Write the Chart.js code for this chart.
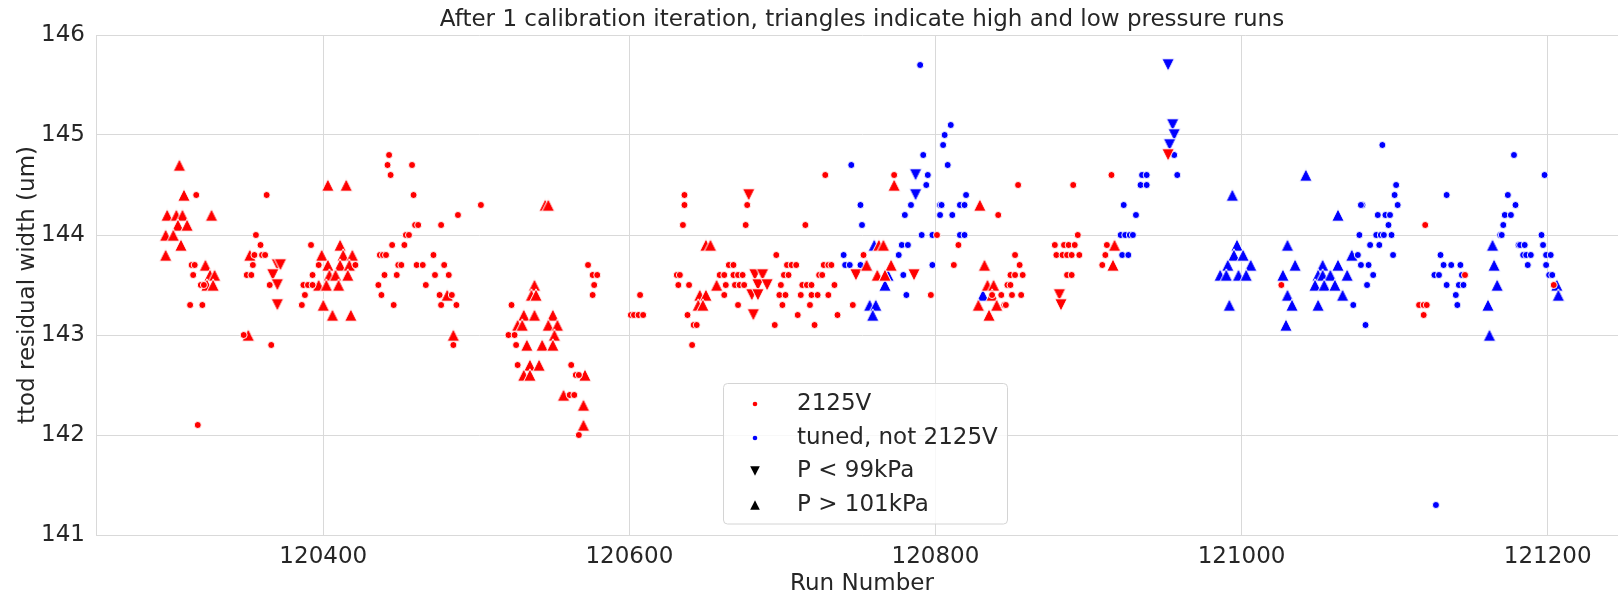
<!DOCTYPE html>
<html><head><meta charset="utf-8">
<script src="https://cdn.jsdelivr.net/npm/chart.js@4.4.0/dist/chart.umd.min.js"></script>
<style>html,body{margin:0;padding:0;overflow:hidden;background:#fff;width:1618px;height:595px}#wrap{width:1634px;height:595px}</style>
</head><body><div id="wrap"><canvas id="c" width="1634" height="595"></canvas></div>
<script>
const chartTitle = 'After 1 calibration iteration, triangles indicate high and low pressure runs';
const xLabel = 'Run Number';
const yLabel = 'ttod residual width (um)';
const xTicks = [120400, 120600, 120800, 121000, 121200];
const yTicks = [141, 142, 143, 144, 145, 146];
const legendLabels = ['2125V', 'tuned, not 2125V', 'P < 99kPa', 'P > 101kPa'];

const redCircleRuns = [120317,120314,120316,120315,120320,120322,120313,120321,120318,120363,120356,120359,120355,120360,120362,120354,120350,120353,120365,120348,120366,120392,120397,120421,120393,120387,120390,120393,120388,120386,120443,120442,120458,120444,120459,120503,120488,120460,120462,120477,120454,120456,120445,120453,120437,120439,120441,120472,120449,120451,120461,120465,120479,120440,120448,120473,120482,120436,120467,120438,120476,120484,120446,120477,120487,120485,120523,120521,120525,120526,120527,120562,120565,120567,120561,120564,120567,120573,120576,120579,120577,120576,120607,120601,120603,120606,120609,120636,120636,120635,120631,120633,120632,120639,120638,120642,120644,120641,120665,120668,120659,120662,120668,120671,120674,120663,120669,120672,120675,120662,120671,120677,120676,120696,120703,120706,120709,120701,120704,120699,120698,120702,120700,120695,120710,120715,120728,120724,120726,120727,120730,120732,120713,120716,120719,120734,120712,120719,120723,120730,120718,120721,120736,120753,120746,120773,120801,120815,120812,120797,120841,120854,120852,120855,120849,120852,120857,120847,120849,120837,120843,120850,120856,120845,120846,120890,120893,120878,120884,120887,120891,120879,120883,120886,120889,120894,120886,120889,120915,120912,120911,120909,121026,121120,121116,121119,121121,121119,121146,121204];
const redCircleVals = [144.4,143.7,143.7,143.6,143.5,143.5,143.3,143.3,142.1,144.4,144.0,143.9,143.8,143.8,143.8,143.7,143.6,143.6,143.5,143.0,142.9,143.9,143.7,143.7,143.6,143.5,143.5,143.5,143.4,143.3,144.8,144.7,144.7,144.6,144.4,144.3,144.2,144.1,144.1,144.1,144.0,144.0,143.9,143.9,143.8,143.8,143.8,143.8,143.7,143.7,143.7,143.7,143.7,143.6,143.6,143.6,143.6,143.5,143.5,143.4,143.4,143.4,143.3,143.3,143.3,142.9,143.3,143.0,143.0,142.9,142.7,142.7,142.6,142.6,142.4,142.4,142.0,143.7,143.6,143.6,143.5,143.4,143.4,143.2,143.2,143.2,143.2,144.4,144.3,144.1,143.6,143.6,143.5,143.5,143.2,143.1,143.1,142.9,143.7,143.7,143.6,143.6,143.6,143.6,143.6,143.5,143.5,143.5,143.5,143.4,143.3,144.3,144.1,143.8,143.7,143.7,143.7,143.6,143.6,143.5,143.4,143.4,143.3,143.1,143.2,144.1,144.6,143.6,143.6,143.7,143.7,143.7,143.5,143.5,143.5,143.5,143.4,143.4,143.4,143.4,143.3,143.1,143.2,143.8,143.3,144.6,144.0,143.9,143.7,143.4,144.2,144.5,143.8,143.7,143.6,143.6,143.6,143.5,143.5,143.4,143.4,143.4,143.4,143.3,143.3,144.5,144.0,143.9,143.9,143.9,143.9,143.8,143.8,143.8,143.8,143.8,143.6,143.6,144.6,143.9,143.8,143.7,143.5,144.1,143.3,143.3,143.3,143.2,143.6,143.5];

const redUpRuns = [120306,120309,120298,120304,120308,120327,120305,120311,120297,120302,120307,120297,120323,120326,120329,120324,120328,120352,120351,120403,120415,120411,120399,120413,120419,120403,120411,120417,120404,120408,120416,120397,120402,120410,120400,120406,120418,120481,120485,120545,120547,120538,120536,120539,120531,120538,120550,120527,120530,120547,120553,120551,120533,120543,120550,120535,120541,120531,120535,120571,120557,120570,120570,120650,120653,120657,120646,120650,120645,120648,120763,120766,120773,120771,120755,120762,120767,120829,120832,120834,120838,120837,120828,120840,120835,120917,120916];
const redUpVals = [144.7,144.4,144.2,144.2,144.2,144.2,144.1,144.1,144.0,144.0,143.9,143.8,143.7,143.6,143.6,143.5,143.5,143.8,143.0,144.5,144.5,143.9,143.8,143.8,143.8,143.7,143.7,143.7,143.6,143.6,143.6,143.5,143.5,143.5,143.3,143.2,143.2,143.4,143.0,144.3,144.3,143.5,143.4,143.4,143.2,143.2,143.2,143.1,143.1,143.1,143.1,143.0,142.9,142.9,142.9,142.7,142.7,142.6,142.6,142.6,142.4,142.3,142.1,143.9,143.9,143.5,143.4,143.4,143.3,143.3,143.9,143.9,144.5,143.7,143.7,143.6,143.6,144.3,143.7,143.5,143.5,143.4,143.3,143.3,143.2,143.9,143.7];

const redDownRuns = [120370,120372,120367,120370,120370,120678,120682,120687,120684,120690,120680,120684,120681,120748,120786,120881,120882,120952];
const redDownVals = [143.7,143.7,143.6,143.5,143.3,144.4,143.6,143.6,143.5,143.5,143.4,143.4,143.2,143.6,143.6,143.4,143.3,144.8];

const blueCircleRuns = [120745,120751,120752,120740,120741,120744,120751,120790,120810,120806,120805,120792,120808,120795,120794,120820,120784,120803,120804,120816,120819,120780,120803,120811,120791,120798,120816,120819,120778,120782,120776,120798,120779,120781,120921,120924,120927,120929,120922,120926,120923,120931,120935,120938,120934,120938,120956,120958,121092,121101,121100,121102,121079,121078,121089,121094,121097,121096,121077,121088,121091,121093,121098,121084,121090,121076,121099,121078,121083,121086,121082,121073,121081,121127,121134,121130,121132,121137,121143,121126,121129,121144,121134,121142,121145,121140,121141,121178,121174,121179,121172,121176,121171,121169,121170,121181,121182,121185,121184,121186,121189,121187,121198,121196,121197,121199,121202,121199,121201,121203];
const blueCircleVals = [144.7,144.3,144.1,143.8,143.7,143.7,143.7,145.7,145.1,145.0,144.9,144.8,144.7,144.6,144.5,144.4,144.3,144.3,144.3,144.3,144.3,144.2,144.2,144.2,144.0,144.0,144.0,144.0,143.9,143.9,143.8,143.7,143.6,143.4,144.0,144.0,144.0,144.0,143.8,143.8,144.3,144.2,144.6,144.6,144.5,144.5,144.8,144.6,144.9,144.5,144.4,144.3,144.3,144.3,144.2,144.2,144.2,144.1,144.0,144.0,144.0,144.0,144.0,143.9,143.9,143.8,143.8,143.7,143.7,143.6,143.5,143.3,143.1,141.3,144.4,143.8,143.7,143.7,143.7,143.6,143.6,143.6,143.5,143.5,143.5,143.4,143.3,144.8,144.4,144.3,144.2,144.2,144.1,144.0,144.0,143.9,143.9,143.9,143.8,143.8,143.8,143.7,144.6,144.0,143.9,143.8,143.8,143.7,143.6,143.6];

const blueUpRuns = [120760,120755,120769,120767,120757,120761,120759,120831,120994,120997,120995,121001,120991,121006,120986,120990,120998,121003,120992,121042,121063,121030,121035,121027,121030,121033,121029,121050,121053,121063,121072,121050,121053,121058,121069,121048,121054,121061,121066,121164,121165,121167,121161,121162,121206,121207];
const blueUpVals = [143.9,143.7,143.6,143.5,143.3,143.3,143.2,143.4,144.4,143.9,143.8,143.8,143.7,143.7,143.6,143.6,143.6,143.6,143.3,144.6,144.2,143.9,143.7,143.6,143.4,143.3,143.1,143.3,143.7,143.7,143.8,143.6,143.6,143.6,143.6,143.5,143.5,143.5,143.4,143.9,143.7,143.5,143.3,143.0,143.5,143.4];

const blueDownRuns = [120787,120787,120952,120955,120956,120953];
const blueDownVals = [144.6,144.4,145.7,145.1,145.0,144.9];

const RED = '#ff0000', BLUE = '#0000ff', TXT = '#262626', GRID = '#d9d9d9';
const FONT = '"DejaVu Sans", sans-serif';
const FS = 23;

function makeTri(color, up) {
  const c = document.createElement('canvas');
  c.width = 16; c.height = 16;
  const g = c.getContext('2d');
  const m = 8, h = 6.2;
  g.beginPath();
  if (up) { g.moveTo(m, m - h); g.lineTo(m + h, m + h); g.lineTo(m - h, m + h); }
  else { g.moveTo(m, m + h); g.lineTo(m + h, m - h); g.lineTo(m - h, m - h); }
  g.closePath();
  g.fillStyle = color; g.fill();
  g.lineWidth = 1; g.strokeStyle = '#ffffff'; g.stroke();
  return c;
}
const pts = (r, v) => r.map((x, i) => ({x: x, y: v[i]}));
const circleDs = (r, v, col) => ({data: pts(r, v), pointStyle: 'circle', pointRadius: 3.5, pointBorderWidth: 0.9, pointBorderColor: '#ffffff', pointBackgroundColor: col});
const triDs = (r, v, col, up) => ({data: pts(r, v), pointStyle: makeTri(col, up), pointRadius: 6, pointBorderWidth: 0});

const overlay = {
  id: 'overlay',
  afterDraw(chart) {
    const ctx = chart.ctx, ca = chart.chartArea;
    ctx.save();
    ctx.fillStyle = TXT;
    ctx.font = FS + 'px ' + FONT;
    ctx.textAlign = 'center';
    ctx.textBaseline = 'middle';
    ctx.fillText(chartTitle, (ca.left + ca.right) / 2, 20.5);
    // legend (lower center)
    const bx = 723, by = 383.5, bw = 284, bh = 140.5;
    ctx.beginPath();
    ctx.roundRect(bx + 0.5, by, bw, bh, 4);
    ctx.fillStyle = 'rgba(255,255,255,0.8)';
    ctx.fill();
    ctx.strokeStyle = '#d4d4d4'; ctx.lineWidth = 1; ctx.stroke();
    const rows = [404, 438, 471, 505];
    const mx = 755;
    ctx.beginPath(); ctx.arc(mx, rows[0], 2.3, 0, Math.PI * 2); ctx.fillStyle = RED; ctx.fill();
    ctx.beginPath(); ctx.arc(mx, rows[1], 2.3, 0, Math.PI * 2); ctx.fillStyle = BLUE; ctx.fill();
    ctx.fillStyle = '#000';
    const t = 4.8;
    ctx.beginPath(); ctx.moveTo(mx, rows[2] + t); ctx.lineTo(mx + t, rows[2] - t); ctx.lineTo(mx - t, rows[2] - t); ctx.closePath(); ctx.fill();
    ctx.beginPath(); ctx.moveTo(mx, rows[3] - t); ctx.lineTo(mx + t, rows[3] + t); ctx.lineTo(mx - t, rows[3] + t); ctx.closePath(); ctx.fill();
    ctx.fillStyle = TXT; ctx.textAlign = 'left';
    legendLabels.forEach((s, i) => ctx.fillText(s, 797, rows[i]));
    ctx.restore();
  }
};

new Chart(document.getElementById('c'), {
  type: 'scatter',
  data: {
    datasets: [
      circleDs(redCircleRuns, redCircleVals, RED),
      triDs(redUpRuns, redUpVals, RED, true),
      triDs(redDownRuns, redDownVals, RED, false),
      circleDs(blueCircleRuns, blueCircleVals, BLUE),
      triDs(blueUpRuns, blueUpVals, BLUE, true),
      triDs(blueDownRuns, blueDownVals, BLUE, false)
    ]
  },
  options: {
    responsive: false,
    animation: false,
    devicePixelRatio: 1,
    layout: {padding: {top: 35, left: 0, right: 0, bottom: 0}},
    plugins: {legend: {display: false}, tooltip: {enabled: false}, title: {display: false}},
    scales: {
      x: {
        type: 'linear', min: 120251.5, max: 121252.5,
        afterBuildTicks: s => { s.ticks = xTicks.map(v => ({value: v})); },
        afterFit: s => { s.height = 60; },
        grid: {color: GRID, lineWidth: 1, drawTicks: false},
        border: {color: GRID, width: 1},
        ticks: {color: TXT, font: {family: FONT, size: FS}, padding: 8, maxRotation: 0, callback: v => String(v)},
        title: {display: true, text: xLabel, color: TXT, font: {family: FONT, size: FS}, padding: {top: 0, bottom: -2.5}}
      },
      y: {
        type: 'linear', min: 141, max: 146,
        afterBuildTicks: s => { s.ticks = yTicks.map(v => ({value: v})); },
        afterFit: s => { s.width = 96; },
        grid: {color: GRID, lineWidth: 1, drawTicks: false},
        border: {color: GRID, width: 1},
        ticks: {color: TXT, font: {family: FONT, size: FS}, padding: 11, callback: v => String(v)},
        title: {display: true, text: yLabel, color: TXT, font: {family: FONT, size: FS}, padding: {top: 14, bottom: 0}}
      }
    }
  },
  plugins: [overlay]
});
</script></body></html>
